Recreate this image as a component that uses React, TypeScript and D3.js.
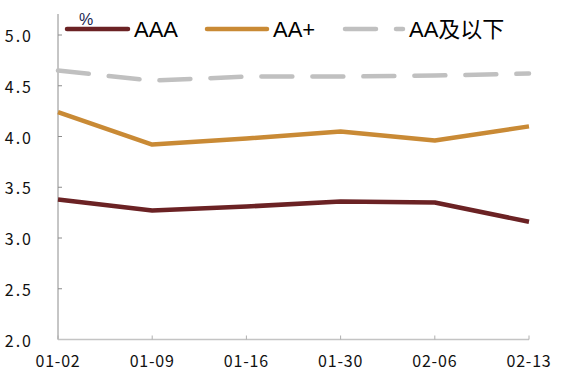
import React from "react";
import * as d3 from "d3";

const categories = ["01-02", "01-09", "01-16", "01-30", "02-06", "02-13"];
const seriesNames = ["AAA", "AA+", "AA及以下"];
const aaa = [3.38, 3.27, 3.31, 3.36, 3.35, 3.16];
const aaPlus = [4.24, 3.92, 3.98, 4.05, 3.96, 4.1];
const aaBelow = [4.65, 4.55, 4.59, 4.59, 4.6, 4.62];
const yTicks = [2.0, 2.5, 3.0, 3.5, 4.0, 4.5, 5.0];
const unitLabel = "%";

const W = 573;
const H = 373;
const left = 58;
const right = 529;
const top = 35;
const bottom = 339.5;

const colors = ["#6B2224", "#C98A35", "#C0C0C0"];

export default function App() {
  const x = d3.scalePoint<string>().domain(categories).range([left, right]);
  const y = d3.scaleLinear().domain([2, 5]).range([bottom, top]);
  const line = d3
    .line<number>()
    .x((_, i) => x(categories[i]) as number)
    .y((d) => y(d));
  const series = [aaa, aaPlus, aaBelow];
  const axisFont = "'Noto Sans CJK SC', sans-serif";
  const legendFont = "'Liberation Sans', 'Noto Sans CJK SC', sans-serif";
  const legendY = 29;
  const legendItems = [
    { x1: 67, x2: 128, tx: 134 },
    { x1: 207, x2: 267, tx: 273 },
    { x1: 343, x2: 403, tx: 409 },
  ];
  return (
    <svg
      width={W}
      height={H}
      style={{ position: "absolute", left: 0, top: 0, background: "#fff" }}
    >
      {/* y axis */}
      <line x1={left} x2={left} y1={14} y2={bottom} stroke="#8c8c8c" strokeWidth={1} />
      {yTicks.map((t) => (
        <g key={t}>
          <line x1={left} x2={left + 4} y1={y(t)} y2={y(t)} stroke="#8c8c8c" strokeWidth={1} />
          <text
            x={33}
            y={y(t)}
            textAnchor="end"
            dominantBaseline="central"
            fontFamily={axisFont}
            fontSize={16}
            letterSpacing={2}
            fill="#111"
          >
            {t.toFixed(1)}
          </text>
        </g>
      ))}
      {/* x axis */}
      <line x1={left} x2={right} y1={bottom} y2={bottom} stroke="#c4c4c4" strokeWidth={1.5} />
      {categories.map((c) => (
        <g key={c}>
          <line
            x1={x(c) as number}
            x2={x(c) as number}
            y1={bottom}
            y2={bottom - 4}
            stroke="#b0b0b0"
            strokeWidth={1}
          />
          <text
            x={x(c) as number}
            y={360}
            textAnchor="middle"
            dominantBaseline="central"
            fontFamily={axisFont}
            fontSize={16}
            letterSpacing={0.8}
            fill="#111"
          >
            {c}
          </text>
        </g>
      ))}
      {/* lines */}
      {series.map((s, i) => (
        <path
          key={seriesNames[i]}
          d={line(s) as string}
          fill="none"
          stroke={colors[i]}
          strokeWidth={4.5}
          strokeLinecap={i === 2 ? "round" : "butt"}
          strokeLinejoin="round"
          strokeDasharray={i === 2 ? "31,20" : undefined}
        />
      ))}
      {/* legend */}
      <text x={79} y={19} dominantBaseline="central" fontFamily={legendFont} fontSize={16} fill="#1c2550">
        {unitLabel}
      </text>
      {legendItems.map((it, i) => (
        <g key={seriesNames[i]}>
          <line
            x1={it.x1 + (i === 2 ? 2 : 0)}
            x2={it.x2}
            y1={legendY}
            y2={legendY}
            stroke={colors[i]}
            strokeWidth={4.5}
            strokeLinecap="round"
            strokeDasharray={i === 2 ? "31,20" : undefined}
          />
          <text
            x={it.tx}
            y={legendY}
            dominantBaseline="central"
            fontFamily={legendFont}
            fontSize={22}
            fill="#000"
          >
            {seriesNames[i]}
          </text>
        </g>
      ))}
    </svg>
  );
}
